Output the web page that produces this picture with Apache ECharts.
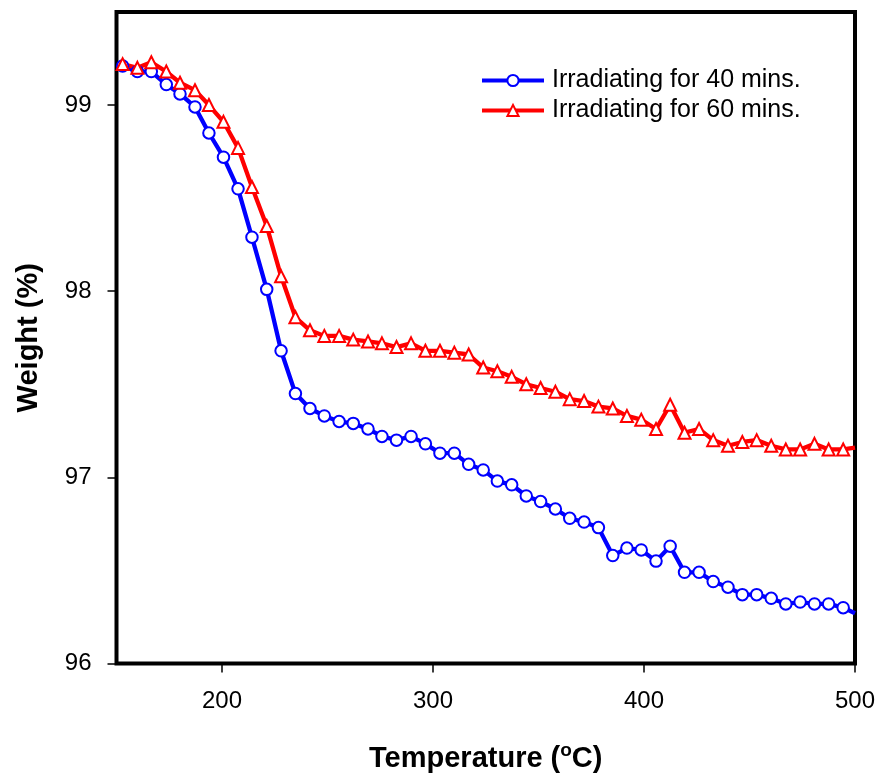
<!DOCTYPE html>
<html>
<head>
<meta charset="utf-8">
<script src="https://cdn.jsdelivr.net/npm/echarts@6/dist/echarts.min.js"></script>
<style>
html,body{margin:0;padding:0;background:#fff;}
#chart{width:881px;height:778px;}
</style>
</head>
<body>
<div id="chart"></div>
<script>
const temps = [152.9,159.9,166.5,173.6,180.1,187.2,193.8,200.7,207.6,214.2,
  221.2,228.0,234.8,241.7,248.5,255.5,262.2,269.2,275.8,282.7,
  289.6,296.4,303.3,310.1,316.9,323.8,330.5,337.3,344.2,351.0,
  358.0,364.8,371.6,378.4,385.2,391.9,398.7,405.7,412.4,419.2,
  426.1,432.8,439.8,446.6,453.4,460.3,467.2,474.0,480.8,487.5,
  494.4,500.0];
const weight40 = [99.21,99.18,99.18,99.11,99.06,98.99,98.85,98.72,98.55,98.29,
  98.01,97.68,97.45,97.37,97.33,97.30,97.29,97.26,97.22,97.20,
  97.22,97.18,97.13,97.13,97.07,97.04,96.98,96.96,96.90,96.87,
  96.83,96.78,96.76,96.73,96.58,96.62,96.61,96.55,96.63,96.49,
  96.49,96.44,96.41,96.37,96.37,96.35,96.32,96.33,96.32,96.32,
  96.30,96.27];
const weight60 = [99.22,99.20,99.23,99.18,99.12,99.08,99.00,98.91,98.77,98.56,
  98.35,98.08,97.86,97.79,97.76,97.76,97.74,97.73,97.72,97.70,
  97.72,97.68,97.68,97.67,97.66,97.59,97.57,97.54,97.50,97.48,
  97.46,97.42,97.41,97.38,97.37,97.33,97.31,97.26,97.39,97.24,
  97.26,97.20,97.17,97.19,97.20,97.17,97.15,97.15,97.18,97.15,
  97.15,97.16];
const xTicks = [200, 300, 400, 500];
const yTicks = [96, 97, 98, 99];
const seriesNames = ['Irradiating for 40 mins.', 'Irradiating for 60 mins.'];

function pairs(ys) {
  return temps.map(function (t, i) {
    const item = { value: [t, ys[i]] };
    if (i === temps.length - 1) item.symbol = 'none';
    return item;
  });
}

const font = '"Liberation Sans", Arial, sans-serif';
const chart = echarts.init(document.getElementById('chart'));
chart.setOption({
  animation: false,
  backgroundColor: '#fff',
  textStyle: { fontFamily: font },
  grid: {
    left: 116.5, right: 26, top: 12, bottom: 114.5,
    containLabel: false, outerBoundsMode: 'none',
    show: true, borderColor: '#000', borderWidth: 4, backgroundColor: 'transparent'
  },
  legend: {
    orient: 'vertical',
    left: 475, top: 63,
    itemWidth: 62, itemHeight: 14, itemGap: 5,
    lineStyle: { width: 4 },
    textStyle: { fontFamily: font, fontSize: 25, color: '#000', padding: [0, 0, 0, 3] },
    data: seriesNames
  },
  xAxis: {
    type: 'value', min: 150, max: 500,
    name: 'Temperature ({sup|o}C)',
    nameLocation: 'middle', nameGap: 78,
    nameTextStyle: {
      fontFamily: font, fontSize: 29, fontWeight: 'bold', color: '#000', lineHeight: 34,
      rich: { sup: { fontFamily: font, fontSize: 19, fontWeight: 'bold', color: '#000', verticalAlign: 'top', lineHeight: 16 } }
    },
    axisLine: { show: false },
    axisTick: { show: true, length: 9, customValues: xTicks, lineStyle: { color: '#000', width: 1.5 } },
    axisLabel: { customValues: xTicks, fontFamily: font, fontSize: 24, color: '#000', margin: 26 },
    splitLine: { show: false }
  },
  yAxis: {
    type: 'value', min: 96, max: 99.5,
    name: 'Weight (%)',
    nameLocation: 'middle', nameGap: 73, nameRotate: 90,
    nameTextStyle: { fontFamily: font, fontSize: 29, fontWeight: 'bold', color: '#000' },
    axisLine: { show: false },
    axisTick: { show: true, length: 9, customValues: yTicks, lineStyle: { color: '#000', width: 1.5 } },
    axisLabel: { customValues: yTicks, fontFamily: font, fontSize: 24, color: '#000', margin: 25 },
    splitLine: { show: false }
  },
  series: [
    {
      name: seriesNames[0], type: 'line', data: pairs(weight40),
      symbol: 'circle', symbolSize: 11.5, clip: true,
      lineStyle: { color: '#0000ff', width: 4.3 },
      itemStyle: { color: '#ffffff', borderColor: '#0000ff', borderWidth: 2 }
    },
    {
      name: seriesNames[1], type: 'line', data: pairs(weight60),
      symbol: 'triangle', symbolSize: 12, clip: true,
      lineStyle: { color: '#ff0000', width: 4.3 },
      itemStyle: { color: '#ffffff', borderColor: '#ff0000', borderWidth: 2 }
    }
  ]
});
</script>
</body>
</html>
